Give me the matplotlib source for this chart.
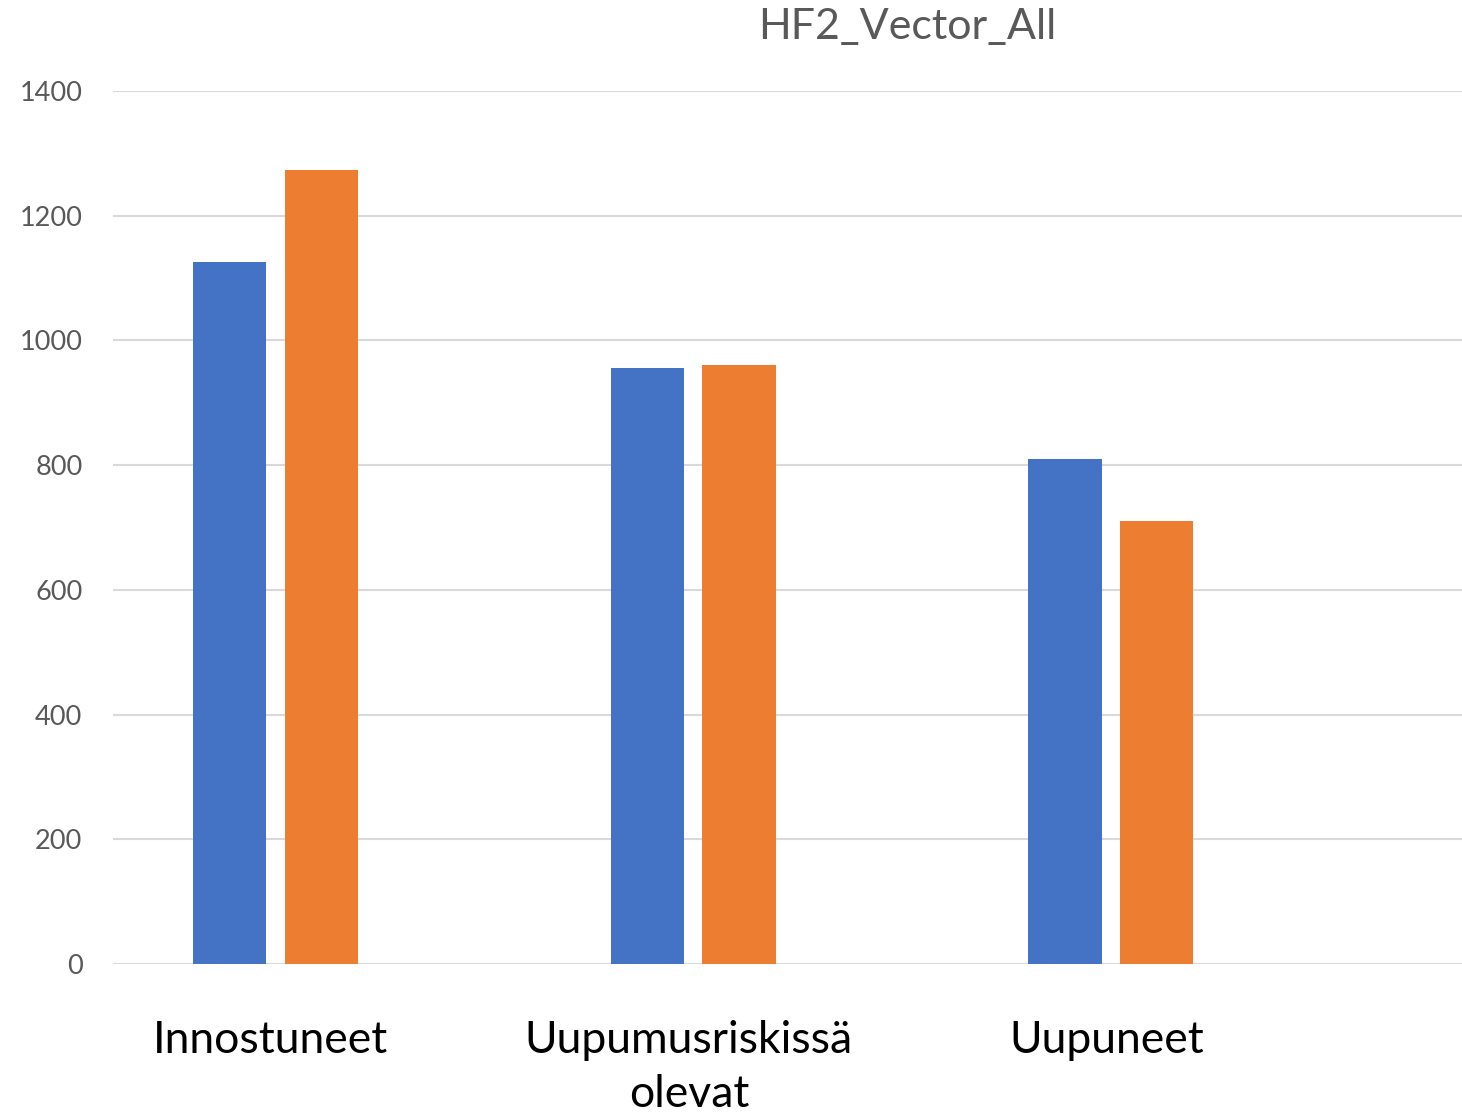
import numpy as np
import matplotlib.pyplot as plt

# donnees
categories = ["Innostuneet", "Uupumusriskissä\nolevat", "Uupuneet"]
serie1 = [1126, 956, 810]
serie2 = [1273, 961, 710]
yticks = [0, 200, 400, 600, 800, 1000, 1200, 1400]

plt.rcParams['font.family'] = ['Lato', 'DejaVu Sans']

fig = plt.figure(figsize=(14.62, 11.15), dpi=100)
ax = fig.add_axes([113/1462, 1-964/1115, 1-113/1462, (964-91)/1115])

x = np.arange(len(categories))
w = 0.175
ax.bar(x - 0.11, serie1, w, color='#4472c4', zorder=3)
ax.bar(x + 0.11, serie2, w, color='#ed7d31', zorder=3)

ax.set_xlim(-0.388, 2.84)
ax.set_ylim(0, 1400)
ax.set_yticks(yticks)
ax.yaxis.grid(True, color='#d9d9d9', linewidth=1.5, zorder=0)
ax.set_axisbelow(True)
for s in ax.spines.values():
    s.set_visible(False)
ax.tick_params(axis='y', length=0, pad=22, labelsize=19.5, labelcolor='#595959')
ax.set_xticks(x - 0.01)
ax.set_xticklabels(categories, fontsize=32, color='black', linespacing=1.4)
ax.tick_params(axis='x', length=0, pad=40)

fig.text(907/1462, 1-27/1115, "HF2_Vector_All", ha='center', va='center',
         fontsize=31, color='#595959')

fig.savefig("out.png", dpi=100)
